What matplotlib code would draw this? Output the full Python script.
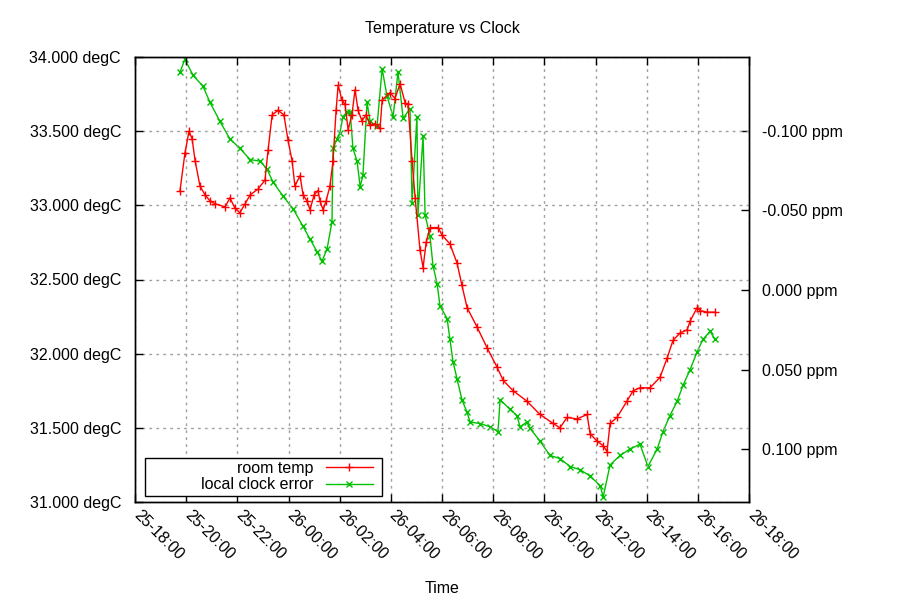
import matplotlib

matplotlib.use("Agg")
import matplotlib.dates as mdates
import matplotlib.patches as mpatches
import matplotlib.pyplot as plt
import matplotlib.transforms as mtransforms
import pandas as pd
from matplotlib.ticker import FormatStrFormatter, MultipleLocator

plt.rcParams["font.family"] = ["Liberation Sans", "DejaVu Sans"]
plt.rcParams["font.size"] = 11.5

START = pd.Timestamp("2000-01-25 18:00")

# hours after 25-18:00, room temperature (degC)
temp_hours = [
    1.76, 1.95, 2.11, 2.23, 2.35, 2.54, 2.74, 2.93, 3.13, 3.52, 3.71, 3.91, 4.10, 4.30,
    4.50, 4.81, 5.08, 5.20, 5.36, 5.59, 5.82, 5.98, 6.14, 6.25, 6.45, 6.57, 6.72, 6.84,
    7.00, 7.15, 7.23, 7.35, 7.47, 7.62, 7.74, 7.86, 7.94, 8.09, 8.21, 8.33, 8.48, 8.60,
    8.72, 8.87, 9.03, 9.19, 9.38, 9.58, 9.66, 9.97, 10.16, 10.36, 10.56, 10.67, 10.83,
    10.95, 11.14, 11.26, 11.38, 11.53, 11.85, 12.00, 12.31, 12.59, 12.78, 12.98, 13.37,
    13.76, 14.15, 14.39, 14.78, 15.32, 15.83, 16.34, 16.61, 16.89, 17.28, 17.67, 17.79,
    18.06, 18.30, 18.45, 18.57, 18.84, 19.23, 19.47, 19.74, 20.13, 20.52, 20.80, 21.03,
    21.31, 21.58, 21.70, 21.97, 22.09, 22.36, 22.67,
]
temp_degc = [
    33.10, 33.35, 33.50, 33.45, 33.30, 33.13, 33.07, 33.03, 33.01, 32.99, 33.05, 32.98,
    32.95, 33.01, 33.07, 33.11, 33.17, 33.37, 33.61, 33.64, 33.61, 33.44, 33.30, 33.13,
    33.20, 33.07, 33.03, 32.97, 33.07, 33.10, 33.03, 32.97, 33.03, 33.13, 33.30, 33.64,
    33.81, 33.71, 33.68, 33.51, 33.61, 33.78, 33.64, 33.57, 33.61, 33.54, 33.55, 33.52,
    33.71, 33.76, 33.72, 33.82, 33.69, 33.68, 33.30, 33.05, 32.70, 32.58, 32.75, 32.85,
    32.85, 32.80, 32.74, 32.61, 32.46, 32.31, 32.18, 32.04, 31.91, 31.82, 31.75, 31.68,
    31.59, 31.53, 31.50, 31.57, 31.56, 31.59, 31.46, 31.41, 31.38, 31.34, 31.53, 31.57,
    31.68, 31.75, 31.77, 31.77, 31.84, 31.97, 32.09, 32.14, 32.16, 32.22, 32.31, 32.29,
    32.28, 32.28,
]

# hours after 25-18:00, local clock error (ppm)
clock_hours = [
    1.76, 1.95, 2.27, 2.66, 2.93, 3.32, 3.71, 4.10, 4.50, 4.89, 5.16, 5.39, 5.79, 6.18,
    6.57, 6.84, 7.12, 7.31, 7.51, 7.70, 7.74, 7.90, 8.01, 8.13, 8.29, 8.41, 8.52, 8.68,
    8.80, 8.91, 9.07, 9.19, 9.46, 9.66, 9.85, 10.09, 10.28, 10.48, 10.75, 10.83, 11.02,
    11.06, 11.26, 11.34, 11.53, 11.65, 11.81, 11.92, 12.20, 12.31, 12.43, 12.59, 12.78,
    12.98, 13.10, 13.49, 13.88, 14.19, 14.27, 14.66, 14.93, 15.05, 15.32, 15.44, 15.83,
    16.22, 16.61, 17.01, 17.40, 17.79, 18.18, 18.30, 18.57, 18.96, 19.35, 19.74, 20.05,
    20.41, 20.64, 20.91, 21.19, 21.42, 21.70, 21.97, 22.20, 22.48, 22.67,
]
clock_ppm = [
    -0.137, -0.145, -0.135, -0.128, -0.118, -0.106, -0.095, -0.089, -0.082, -0.081,
    -0.076, -0.068, -0.059, -0.051, -0.040, -0.032, -0.024, -0.018, -0.026, -0.043,
    -0.089, -0.095, -0.099, -0.109, -0.112, -0.112, -0.089, -0.081, -0.065, -0.072,
    -0.118, -0.106, -0.103, -0.139, -0.122, -0.109, -0.137, -0.108, -0.114, -0.055,
    -0.109, -0.047, -0.097, -0.047, -0.034, -0.015, -0.004, 0.010, 0.018, 0.031, 0.045,
    0.056, 0.069, 0.077, 0.083, 0.084, 0.086, 0.089, 0.069, 0.075, 0.079, 0.086, 0.083,
    0.087, 0.095, 0.104, 0.106, 0.111, 0.113, 0.117, 0.123, 0.130, 0.110, 0.104, 0.100,
    0.097, 0.111, 0.100, 0.089, 0.079, 0.070, 0.060, 0.050, 0.039, 0.031, 0.026, 0.031,
]

RED = "#ff0000"
GREEN = "#00c000"

temp_t = START + pd.to_timedelta(temp_hours, unit="h")
clock_t = START + pd.to_timedelta(clock_hours, unit="h")

fig = plt.figure(figsize=(9, 6), dpi=100)
ax = fig.add_axes([135 / 900, 98 / 600, 614 / 900, 445 / 600])
ax2 = ax.twinx()

(l1,) = ax.plot(temp_t, temp_degc, color=RED, lw=1, marker="+", ms=6, mew=1,
                label="room temp", zorder=3)
(l2,) = ax2.plot(clock_t, clock_ppm, color=GREEN, lw=1, marker="x", ms=5, mew=1,
                 label="local clock error", zorder=2)

ax.set_xlim(START, START + pd.Timedelta(hours=24))
ax.xaxis.set_major_locator(mdates.HourLocator(byhour=range(0, 24, 2)))
ax.xaxis.set_major_formatter(mdates.DateFormatter("%d-%H:%M"))
ax.set_ylim(31.0, 34.0)
ax.yaxis.set_major_locator(MultipleLocator(0.5))
ax.yaxis.set_major_formatter(FormatStrFormatter("%.3f degC"))

ax2.set_ylim(0.1333, -0.1465)
ax2.set_yticks([-0.1, -0.05, 0.0, 0.05, 0.1])
ax2.yaxis.set_major_formatter(FormatStrFormatter("%.3f ppm"))

ax.tick_params(axis="both", direction="in", length=6, width=1, top=True, right=False)
ax.tick_params(axis="y", pad=10)
ax.tick_params(axis="x", pad=8)
ax2.tick_params(axis="y", direction="in", length=6, width=1, pad=9)

shift = mtransforms.ScaledTranslation(1 / 100, 0, fig.dpi_scale_trans)
for lab in ax.get_xticklabels():
    lab.set_rotation(-45)
    lab.set_ha("left")
    lab.set_va("center")
    lab.set_rotation_mode("anchor")
    lab.set_transform(lab.get_transform() + shift)

ax.grid(True, color="#a0a0a0", linestyle=(0, (2, 3)), linewidth=1)
for a in (ax, ax2):
    for s in a.spines.values():
        s.set_linewidth(1)
        s.set_color("black")

ax.set_zorder(ax2.get_zorder() + 1)
ax.patch.set_visible(False)

ax.set_title("Temperature vs Clock", fontsize=11.5, pad=17)
ax.set_xlabel("Time", labelpad=13)

# key box, gnuplot style: white box with black border
box = mpatches.Rectangle((145 / 900, (600 - 496) / 600), 237 / 900, 38 / 600,
                         transform=fig.transFigure, facecolor="white",
                         edgecolor="black", lw=1, zorder=4, clip_on=False)
ax.add_patch(box)

leg = ax.legend([l1, l2], ["room temp", "local clock error"], loc="center right",
                bbox_to_anchor=(373 / 900, (600 - 476.5) / 600),
                bbox_transform=fig.transFigure, borderaxespad=0, borderpad=0,
                markerfirst=False, frameon=False, handlelength=2.95,
                labelspacing=0.1, handletextpad=0.8)
leg.set_zorder(5)

fig.savefig("out.png", dpi=100)
plt.close(fig)
